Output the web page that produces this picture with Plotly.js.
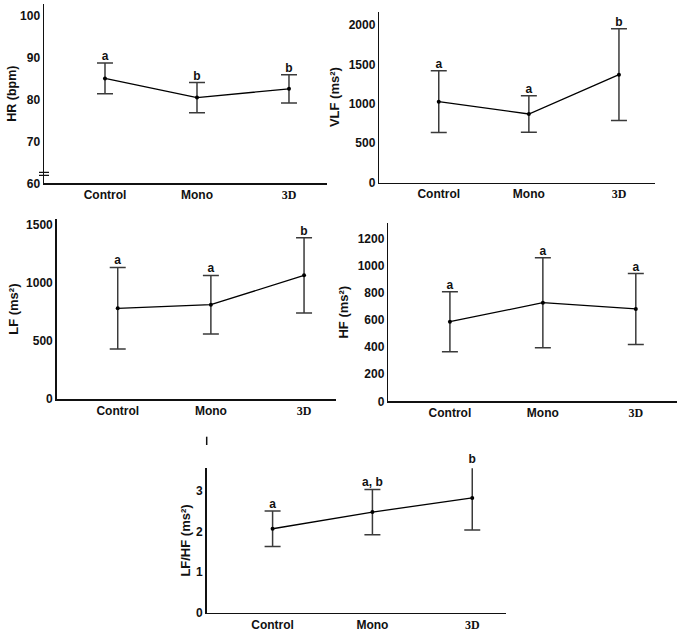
<!DOCTYPE html>
<html>
<head>
<meta charset="utf-8">
<script src="https://cdn.plot.ly/plotly-3.0.1.min.js"></script>
<style>html,body{margin:0;padding:0;background:#fff;}#chart{width:680px;height:637px;}</style>
</head>
<body>
<div id="chart"></div>
<script>
// ---- data ----
const categories = ['Control', 'Mono', '3D'];

const hrMean = [85.1, 80.5, 82.6];
const hrSD = [3.7, 3.6, 3.4];
const hrLetters = ['a', 'b', 'b'];
const hrTicks = [60, 70, 80, 90, 100];

const vlfMean = [1026, 870, 1369];
const vlfSD = [392, 232, 582];
const vlfLetters = ['a', 'a', 'b'];
const vlfTicks = [0, 500, 1000, 1500, 2000];

const lfMean = [782, 813, 1066];
const lfSD = [352, 252, 325];
const lfLetters = ['a', 'a', 'b'];
const lfTicks = [0, 500, 1000, 1500];

const hfMean = [586, 726, 680];
const hfSD = [221, 331, 261];
const hfLetters = ['a', 'a', 'a'];
const hfTicks = [0, 200, 400, 600, 800, 1000, 1200];

const ratioMean = [2.07, 2.48, 2.83];
const ratioSD = [0.44, 0.56, 0.79];
const ratioLetters = ['a', 'a, b', 'b'];
const ratioTicks = [0, 1, 2, 3];

// ---- layout helpers ----
const FONT = 'Liberation Sans, Arial, sans-serif';
const W = 680, H = 637;
const tickText = categories.map(c => c === '3D'
  ? '<span style="font-family:Liberation Serif">3D</span>' : c);

const panels = [
  {mean: hrMean, sd: hrSD, letters: hrLetters, ticks: hrTicks, title: 'HR (bpm)',
   px: [44, 326.7], py: [4, 183.3], xr: [-0.663, 2.41], yr: [60, 102.9], tsize: 12.5, standoff: 0},
  {mean: vlfMean, sd: vlfSD, letters: vlfLetters, ticks: vlfTicks, title: 'VLF (ms²)',
   px: [379.3, 655], py: [11.7, 182.5], xr: [-0.66, 2.4], yr: [0, 2169], tsize: 13, standoff: 6},
  {mean: lfMean, sd: lfSD, letters: lfLetters, ticks: lfTicks, title: 'LF (ms²)',
   px: [56.7, 336], py: [219.3, 399], xr: [-0.655, 2.343], yr: [0, 1549], tsize: 13, standoff: 4},
  {mean: hfMean, sd: hfSD, letters: hfLetters, ticks: hfTicks, title: 'HF (ms²)',
   px: [388.3, 676.7], py: [223, 401.3], xr: [-0.663, 2.44], yr: [0, 1313], tsize: 13, standoff: 6},
  {mean: ratioMean, sd: ratioSD, letters: ratioLetters, ticks: ratioTicks, title: 'LF/HF (ms²)',
   px: [206.7, 505.7], py: [468.3, 612.7], xr: [-0.66, 2.335], yr: [0, 3.56], tsize: 13, standoff: 2}
];

const data = [];
const layout = {
  width: W, height: H,
  margin: {l: 0, r: 0, t: 0, b: 0},
  paper_bgcolor: '#fff', plot_bgcolor: 'rgba(0,0,0,0)',
  showlegend: false,
  font: {family: FONT, color: '#111', size: 12},
  shapes: []
};

let extraAxis = panels.length + 1;

panels.forEach((p, i) => {
  const k = i === 0 ? '' : String(i + 1);
  const yDom = [1 - p.py[1] / H, 1 - p.py[0] / H];
  data.push({
    type: 'scatter', mode: 'lines+markers',
    x: categories, y: p.mean,
    xaxis: 'x' + k, yaxis: 'y' + k,
    line: {color: '#000', width: 1.3},
    marker: {color: '#000', size: 4},
    error_y: {type: 'data', array: p.sd, visible: true, color: '#3a3a3a', thickness: 1.5, width: 8},
    cliponaxis: false,
    hoverinfo: 'skip'
  });
  layout['xaxis' + k] = {
    domain: [p.px[0] / W, p.px[1] / W],
    range: p.xr, type: 'category',
    tickmode: 'array', tickvals: categories, ticktext: tickText,
    showline: true, linecolor: '#111', linewidth: 1.5,
    ticks: '', showgrid: false, zeroline: false,
    tickfont: {family: FONT, size: 12, weight: 'bold', color: '#111'},
    ticklabelstandoff: 0,
    anchor: 'y' + k, fixedrange: true
  };
  layout['yaxis' + k] = {
    domain: yDom,
    range: p.yr,
    tickmode: 'array', tickvals: p.ticks,
    showline: true, linecolor: '#111', linewidth: 1.5,
    ticks: '', showgrid: false, zeroline: false,
    tickfont: {family: FONT, size: 12, weight: 'bold', color: '#111'},
    anchor: 'x' + k, fixedrange: true,
    title: {text: p.title, font: {family: FONT, size: p.tsize, weight: 'bold', color: '#111'}, standoff: p.standoff}
  };

  // significance letters, sitting on top of each error bar
  const tops = p.mean.map((m, j) => m + p.sd[j]);
  let letterY = 'y' + k;
  if (Math.max(...tops) > p.yr[1]) {
    // a hidden twin y axis with the same scale but a taller domain,
    // so letters above the drawn axis top are not culled
    const id = String(extraAxis++);
    const extraPx = 40;
    const span = p.yr[1] - p.yr[0];
    const domH = p.py[1] - p.py[0];
    layout['yaxis' + id] = {
      domain: [yDom[0], 1 - (p.py[0] - extraPx) / H],
      range: [p.yr[0], p.yr[0] + span * (domH + extraPx) / domH],
      visible: false, anchor: 'x' + k, fixedrange: true
    };
    letterY = 'y' + id;
  }
  data.push({
    type: 'scatter', mode: 'text',
    x: categories, y: tops,
    text: p.letters, textposition: 'top center',
    textfont: {family: FONT, size: 12, weight: 'bold', color: '#111'},
    xaxis: 'x' + k, yaxis: letterY,
    cliponaxis: false, hoverinfo: 'skip'
  });
});

// axis break marks on the HR axis
[61.9, 62.6].forEach(v => {
  layout.shapes.push({
    type: 'line', xref: 'paper', yref: 'y',
    xsizemode: 'pixel', xanchor: panels[0].px[0] / W, x0: -5, x1: 5,
    y0: v, y1: v, line: {color: '#111', width: 1.2}
  });
});
// short stray stroke above the LF/HF axis
layout.shapes.push({
  type: 'line', xref: 'paper', yref: 'paper',
  x0: panels[4].px[0] / W, x1: panels[4].px[0] / W,
  y0: 1 - 445 / H, y1: 1 - 436.7 / H,
  line: {color: '#111', width: 1.5}
});

Plotly.newPlot('chart', data, layout, {displayModeBar: false, staticPlot: true});
</script>
</body>
</html>
